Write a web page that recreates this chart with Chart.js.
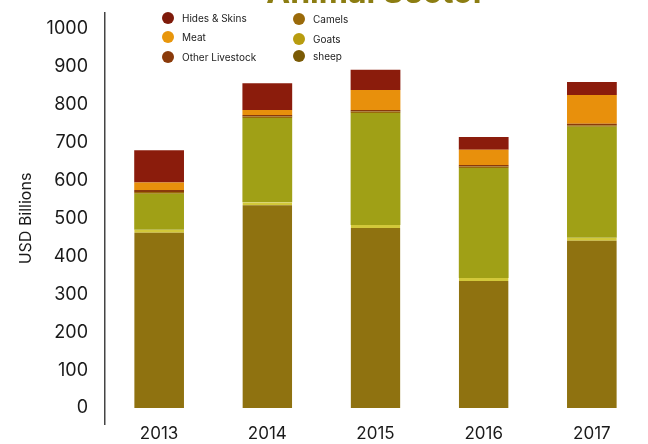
<!DOCTYPE html>
<html>
<head>
<meta charset="utf-8">
<script src="https://cdn.jsdelivr.net/npm/chart.js@4"></script>
<style>
  html, body { margin: 0; padding: 0; background: #ffffff; }
  #wrap { position: relative; width: 648px; height: 444px; overflow: hidden; font-family: Inter, "Noto Sans", sans-serif; }
  #c { position: absolute; left: 0; top: 0; }
  #title { position: absolute; left: 176px; width: 400px; top: -24px; text-align: center; font-size: 32px; font-weight: 700; color: #8c7d12; line-height: 1; }
  .lg { position: absolute; font-size: 10px; color: #222; display: flex; align-items: center; }
  .dot { width: 12px; height: 12px; border-radius: 50%; margin-right: 8px; flex: none; }
</style>
</head>
<body>
<div id="wrap">
  <canvas id="c" width="648" height="444"></canvas>
  <div id="title">Animal Sector</div>
  <div id="legend"></div>
</div>
<script>
const years = ["2013", "2014", "2015", "2016", "2017"];
const sheep = [470, 543, 483, 343, 449];
const goats = [95, 222, 295, 290, 293];
const camels = [5, 4, 4, 4, 4];
const otherLivestock = [5, 4, 4, 4, 4];
const meat = [20, 13, 53, 40, 76];
const hidesSkins = [85, 71, 53, 34, 34];
const yTicks = [0, 100, 200, 300, 400, 500, 600, 700, 800, 900, 1000];

const series = [
  { label: "sheep", data: sheep, color: "#8f7210", legend: "#7a5a05" },
  { label: "Goats", data: goats, color: "#a0a016", legend: "#b89c10" },
  { label: "Camels", data: camels, color: "#9a6a0a", legend: "#9a6a0a" },
  { label: "Other Livestock", data: otherLivestock, color: "#8a3a0a", legend: "#8a3a0a" },
  { label: "Meat", data: meat, color: "#e8900c", legend: "#e8960c" },
  { label: "Hides & Skins", data: hidesSkins, color: "#8b1c0c", legend: "#7e1a0a" }
];

// HTML legend (two columns)
const legendPos = {
  "Hides & Skins": [162, 12], "Meat": [162, 31], "Other Livestock": [162, 51],
  "Camels": [293, 13], "Goats": [293, 33], "sheep": [293, 50]
};
const lg = document.getElementById("legend");
series.forEach(s => {
  const p = legendPos[s.label];
  const d = document.createElement("div");
  d.className = "lg";
  d.style.left = p[0] + "px";
  d.style.top = p[1] + "px";
  d.innerHTML = '<span class="dot" style="background:' + s.legend + '"></span><span></span>';
  d.lastChild.textContent = s.label;
  lg.appendChild(d);
});

new Chart(document.getElementById("c"), {
  type: "bar",
  data: {
    labels: years,
    datasets: series.map(s => ({
      label: s.label,
      data: s.data,
      backgroundColor: s.color,
      borderWidth: s.label === "sheep" ? { top: 3, left: 0, right: 0, bottom: 0 } : 0,
      borderColor: "#d2c83a",
      borderSkipped: false,
      barPercentage: 0.46,
      categoryPercentage: 1
    }))
  },
  options: {
    responsive: false,
    animation: false,
    layout: { padding: { top: 13, left: 0, right: 2, bottom: 0 } },
    plugins: { legend: { display: false }, title: { display: false }, tooltip: { enabled: false } },
    scales: {
      x: {
        stacked: true,
        afterFit: s => { s.height = 20; },
        grid: { display: false, drawTicks: false },
        border: { display: false },
        ticks: { color: "#1a1a1a", padding: 0, font: { family: "Inter", size: 17 } }
      },
      y: {
        stacked: true,
        min: -42,
        max: 1042,
        afterBuildTicks: axis => { axis.ticks = yTicks.map(v => ({ value: v })); },
        afterFit: s => { s.width = 105; s.paddingTop = 0; s.paddingBottom = 0; },
        grid: { display: false, drawTicks: false },
        border: { display: true, color: "#444", width: 1.5 },
        ticks: { color: "#1a1a1a", padding: 17, font: { family: "Inter", size: 18 }, callback: v => String(v) },
        title: { display: true, text: "USD Billions", color: "#1a1a1a", padding: { top: 17, bottom: 0 }, font: { family: "Inter", size: 16 } }
      }
    }
  }
});
</script>
</body>
</html>
